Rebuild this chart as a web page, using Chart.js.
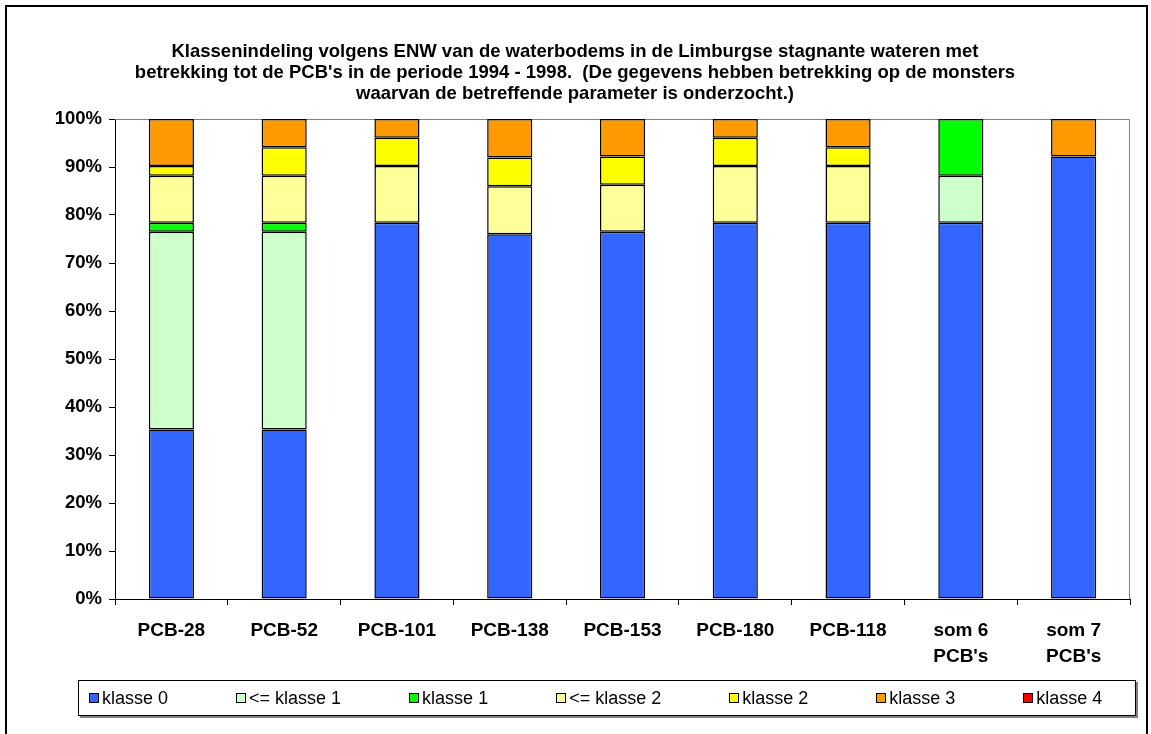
<!DOCTYPE html>
<html>
<head>
<meta charset="utf-8">
<script src="https://cdn.jsdelivr.net/npm/chart.js@4"></script>
<style>
    body { margin: 0; background: #fff; font-family: "Liberation Sans", Arial, sans-serif; }
    #wrap { position: relative; width: 1151px; height: 734px; overflow: hidden; }
    #frame { position: absolute; left: 5px; top: 5px; width: 1139px; height: 760px; border: 2px solid #000; pointer-events: none; }
    #myChart { position: absolute; left: 0; top: 0; }
    #legend {
        position: absolute; left: 78px; top: 680px; width: 1046px; height: 34px;
        box-sizing: content-box;
        border: 1px solid #000; box-shadow: 2px 2px 0 #7f7f7f; background: #fff;
        display: flex; align-items: center; gap: 68px; padding-left: 10px;
        font-size: 18px; color: #000;
    }
    .item { display: flex; align-items: center; white-space: nowrap; }
    .swatch { width: 8px; height: 8px; border: 1px solid #000; margin-right: 3px; }
</style>
</head>
<body>
<div id="wrap">
    <canvas id="myChart" width="1151" height="734"></canvas>
    <div id="legend"></div>
    <div id="frame"></div>
</div>
<script>
// PCB-parameters langs de x-as
const categories = ["PCB-28", "PCB-52", "PCB-101", "PCB-138", "PCB-153", "PCB-180", "PCB-118", ["som 6", "PCB's"], ["som 7", "PCB's"]];

// percentage monsters per klasse
const klasse0 = [35.3, 35.3, 78.4, 76.0, 76.5, 78.4, 78.4, 78.4, 92.2];
const kleinerKlasse1 = [41.2, 41.2, 0, 0, 0, 0, 0, 9.8, 0];
const klasse1 = [1.9, 1.9, 0, 0, 0, 0, 0, 11.8, 0];
const kleinerKlasse2 = [9.8, 9.8, 11.8, 10.0, 9.8, 11.8, 11.8, 0, 0];
const klasse2 = [2.0, 5.9, 5.9, 6.0, 5.9, 5.9, 3.9, 0, 0];
const klasse3 = [9.8, 5.9, 3.9, 8.0, 7.8, 3.9, 5.9, 0, 7.8];
const klasse4 = [0, 0, 0, 0, 0, 0, 0, 0, 0];

const yTicks = [0, 10, 20, 30, 40, 50, 60, 70, 80, 90, 100];

const titleLines = [
    "Klassenindeling volgens ENW van de waterbodems in de Limburgse stagnante wateren met",
    "betrekking tot de PCB's in de periode 1994 - 1998.  (De gegevens hebben betrekking op de monsters",
    "waarvan de betreffende parameter is onderzocht.)"
];

const series = [
    { label: "klasse 0", data: klasse0, color: "#3366FF" },
    { label: "<= klasse 1", data: kleinerKlasse1, color: "#CCFFCC" },
    { label: "klasse 1", data: klasse1, color: "#00FF00" },
    { label: "<= klasse 2", data: kleinerKlasse2, color: "#FFFF99" },
    { label: "klasse 2", data: klasse2, color: "#FFFF00" },
    { label: "klasse 3", data: klasse3, color: "#FF9900" },
    { label: "klasse 4", data: klasse4, color: "#FF0000" }
];

const FONT = "'Liberation Sans', Arial, sans-serif";

// grijze rand om het plotgebied (boven en rechts)
const plotFrame = {
    id: 'plotFrame',
    beforeDatasetsDraw(chart) {
        const a = chart.chartArea;
        const ctx = chart.ctx;
        ctx.save();
        ctx.strokeStyle = '#808080';
        ctx.lineWidth = 1;
        ctx.beginPath();
        ctx.moveTo(a.left, a.top + 0.5);
        ctx.lineTo(a.right - 0.5, a.top + 0.5);
        ctx.lineTo(a.right - 0.5, a.bottom);
        ctx.stroke();
        ctx.restore();
    }
};

const data = {
    labels: categories,
    datasets: series.map(function(s) {
        return {
            label: s.label,
            data: s.data,
            backgroundColor: s.color,
            borderColor: '#000',
            borderWidth: 1.5,
            borderSkipped: false,
            barPercentage: 0.4,
            categoryPercentage: 1.0
        };
    })
};

const config = {
    type: 'bar',
    data: data,
    plugins: [plotFrame],
    options: {
        responsive: false,
        animation: false,
        layout: { padding: { top: 30, left: 20, right: 21, bottom: 65 } },
        plugins: {
            legend: { display: false },
            tooltip: { enabled: false },
            title: {
                display: true,
                text: titleLines,
                color: '#000',
                font: { family: FONT, size: 18.5, weight: 'bold', lineHeight: 21 / 18.5 },
                padding: { top: 11.5, bottom: 14.5 }
            }
        },
        scales: {
            x: {
                stacked: true,
                afterFit: function(scale) { scale.height = 70; },
                border: { color: '#000', width: 1 },
                grid: { offset: true, drawOnChartArea: false, color: '#000', tickLength: 6 },
                ticks: {
                    color: '#000',
                    padding: 13,
                    maxRotation: 0,
                    autoSkip: false,
                    font: { family: FONT, size: 19, weight: 'bold', lineHeight: 26 / 19 }
                }
            },
            y: {
                stacked: true,
                min: 0,
                max: 100,
                afterFit: function(scale) { scale.width = 95; },
                afterBuildTicks: function(scale) {
                    scale.ticks = yTicks.map(function(v) { return { value: v }; });
                },
                border: { color: '#000', width: 1 },
                grid: { drawOnChartArea: false, color: '#000', tickLength: 6 },
                ticks: {
                    color: '#000',
                    padding: 7,
                    font: { family: FONT, size: 18.5, weight: 'bold' },
                    callback: function(v) { return v + '%'; }
                }
            }
        }
    }
};

const myChart = new Chart(document.getElementById('myChart'), config);

// legenda onder de grafiek
const legend = document.getElementById('legend');
series.forEach(function(s) {
    const item = document.createElement('div');
    item.className = 'item';
    const sw = document.createElement('span');
    sw.className = 'swatch';
    sw.style.background = s.color;
    const txt = document.createElement('span');
    txt.textContent = s.label;
    item.appendChild(sw);
    item.appendChild(txt);
    legend.appendChild(item);
});
</script>
</body>
</html>
